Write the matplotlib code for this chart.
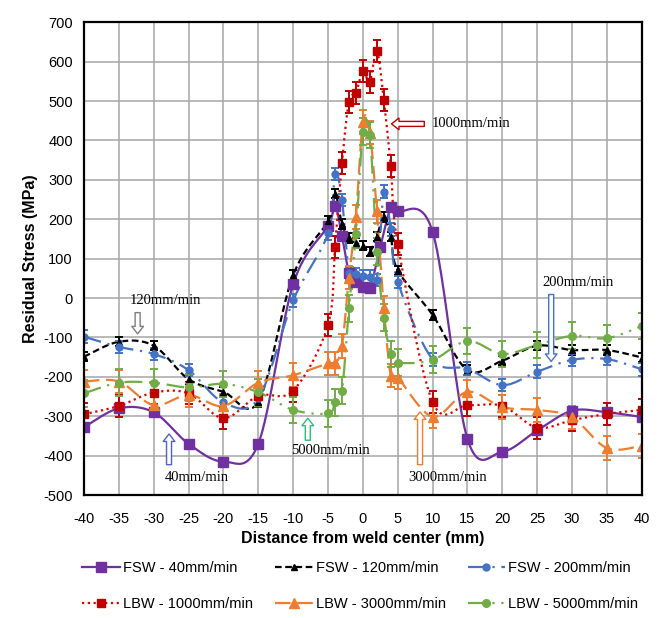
import numpy as np
import matplotlib
matplotlib.use("Agg")
import matplotlib.pyplot as plt
from matplotlib.lines import Line2D
from matplotlib.patches import FancyArrowPatch

# distances (mm)
x_fsw40 = [-40, -35, -30, -25, -20, -15, -10, -5, -4, -3, -2, -1, 0, 1, 2.5, 4, 5, 10, 15, 20, 25, 30, 35, 40]
x_all = [-40, -35, -30, -25, -20, -15, -10, -5, -4, -3, -2, -1, 0, 1, 2, 3, 4, 5, 10, 15, 20, 25, 30, 35, 40]

# residual stress (MPa)
fsw40 = [-328, -280, -290, -370, -415, -370, 35, 183, 234, 158, 63, 41, 29, 25, 130, 230, 221, 168,
         -358, -390, -336, -286, -290, -302]
fsw120 = [-149, -111, -121, -206, -238, -263, 58, 195, 265, 188, 152, 140, 133, 118, 156, 206, 156, 70,
          -43, -183, -159, -121, -132, -132, -151]
fsw200 = [-98, -124, -142, -183, -265, -255, -6, 164, 315, 249, 63, 60, 55, 54, 46, 270, 174, 41,
          -156, -179, -221, -187, -157, -155, -181]
lbw1000 = [-295, -274, -240, -242, -305, -248, -235, -68, 130, 343, 498, 521, 576, 549, 628, 502, 336, 137,
           -264, -272, -274, -329, -310, -294, -284]
lbw3000 = [-212, -212, -272, -246, -274, -215, -196, -166, -166, -122, 52, 206, 447, 420, 220, -25, -197, -202,
           -301, -238, -277, -284, -303, -381, -375]
lbw5000 = [-242, -215, -215, -227, -218, -239, -284, -293, -265, -235, -26, 162, 422, 414, 118, -50, -142, -164,
           -157, -109, -142, -119, -96, -102, -71]

# measurement scatter (MPa)
err = {"fsw40": 8, "fsw120": 12, "fsw200": 16, "lbw1000": 28, "lbw3000": 30, "lbw5000": 34}

x_ticks = list(range(-40, 41, 5))
y_ticks = list(range(-500, 701, 100))


def smooth(ax, xs, ys, n=24):
    # excel-like smoothed line, computed in screen space
    pts = ax.transData.transform(np.column_stack([xs, ys]))
    out = [pts[0]]
    t = np.linspace(0, 1, n)[1:, None]
    for i in range(len(pts) - 1):
        p0 = pts[i - 1] if i > 0 else pts[i]
        p1, p2 = pts[i], pts[i + 1]
        p3 = pts[i + 2] if i + 2 < len(pts) else pts[i + 1]
        c1 = p1 + (p2 - p0) / 6
        c2 = p2 - (p3 - p1) / 6
        seg = (1 - t)**3 * p1 + 3 * (1 - t)**2 * t * c1 + 3 * (1 - t) * t**2 * c2 + t**3 * p2
        out.extend(seg)
    out = ax.transData.inverted().transform(np.array(out))
    return out[:, 0], out[:, 1]


plt.rcParams['font.family'] = ['Liberation Sans', 'DejaVu Sans']
plt.rcParams['axes.unicode_minus'] = False

fig = plt.figure(figsize=(6.61, 6.18), dpi=100)
ax = fig.add_axes([0.127, 0.199, 0.844, 0.765])
ax.set_xlim(-40, 40)
ax.set_ylim(-500, 700)
ax.set_xticks(x_ticks)
ax.set_yticks(y_ticks)
ax.grid(True, color='#a6a6a6', lw=1.1)
ax.set_axisbelow(True)
ax.tick_params(length=0, labelsize=10.5)
ax.tick_params(axis='x', pad=12)
ax.tick_params(axis='y', pad=8)
for s in ax.spines.values():
    s.set_color('black')
    s.set_linewidth(1.6)

series = [
    ("FSW - 40mm/min", x_fsw40, fsw40, err["fsw40"], '#7030a0', '-', 's', 7),
    ("FSW - 120mm/min", x_all, fsw120, err["fsw120"], 'black', (0, (3, 1.6)), '^', 5),
    ("FSW - 200mm/min", x_all, fsw200, err["fsw200"], '#4472c4', (0, (8, 3, 1, 3)), 'o', 5),
    ("LBW - 1000mm/min", x_all, lbw1000, err["lbw1000"], '#e00000', (0, (1, 1.6)), 's', 5.5),
    ("LBW - 3000mm/min", x_all, lbw3000, err["lbw3000"], '#ed7d31', (0, (7, 3)), '^', 7),
    ("LBW - 5000mm/min", x_all, lbw5000, err["lbw5000"], '#70ad47', (0, (8, 3, 1, 3, 1, 3)), 'o', 5.5),
]

handles = []
for name, xs, ys, e, c, ls, m, ms in series:
    sx, sy = smooth(ax, xs, ys)
    ax.plot(sx, sy, color=c, ls=ls, lw=1.6)
    mc = '#c00000' if c == '#e00000' else c
    ax.errorbar(xs, ys, yerr=e, fmt=m, color=mc, ms=ms, capsize=3, elinewidth=1.4,
                capthick=1.4, ls='none')
    handles.append(Line2D([], [], color=c, ls=ls, lw=1.6, marker=m, ms=ms, mfc=mc, mec=mc))

# annotations with hollow block arrows
notes = [
    ("1000mm/min", (9.8, 442), (9.2, 442), (3.7, 442), '#c00000', 'left', 'center'),
    ("120mm/min", (-28.3, -6), (-32.3, -30), (-32.3, -98), '#7f7f7f', 'center', 'center'),
    ("40mm/min", (-23.8, -455), (-27.8, -430), (-27.8, -338), '#4f5fd0', 'center', 'center'),
    ("5000mm/min", (-4.6, -386), (-7.9, -368), (-7.9, -298), '#2ebd7a', 'center', 'center'),
    ("3000mm/min", (12.2, -455), (8.2, -430), (8.2, -282), '#ed7d31', 'center', 'center'),
    ("200mm/min", (30.8, 39), (27.0, 16), (27.0, -168), '#4472c4', 'center', 'center'),
]
for txt, tpos, a0, a1, c, ha, va in notes:
    ax.text(*tpos, txt, family=['Liberation Serif', 'DejaVu Serif'], fontsize=10.5,
            ha=ha, va=va, zorder=6)
    arr = FancyArrowPatch(a0, a1, arrowstyle='simple,head_length=0.45,head_width=0.7,tail_width=0.3',
                          mutation_scale=12, fc='white', ec=c, lw=1.0, zorder=6)
    ax.add_patch(arr)

ax.set_xlabel("Distance from weld center (mm)", fontsize=11.5, fontweight='bold', labelpad=4)
ax.set_ylabel("Residual Stress (MPa)", fontsize=11.5, fontweight='bold', labelpad=4)

order = [0, 3, 1, 4, 2, 5]
fig.legend([handles[i] for i in order], [series[i][0] for i in order], loc='center',
           bbox_to_anchor=(0.545, 0.052), ncol=3, frameon=False, fontsize=10.5,
           handlelength=2.6, handletextpad=0.2, columnspacing=1.5, labelspacing=1.5)

fig.savefig("out.png", dpi=100)
